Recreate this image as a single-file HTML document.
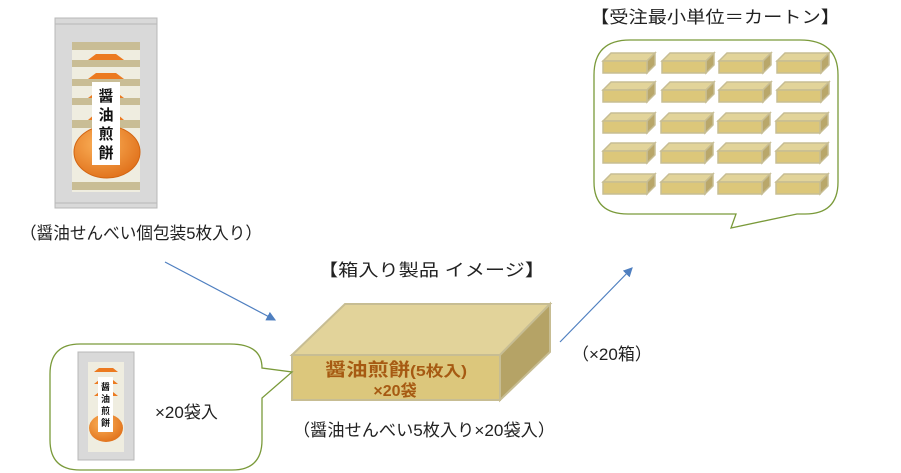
<!DOCTYPE html>
<html><head><meta charset="utf-8"><style>
body{margin:0;background:#fff}
svg{display:block}
text{font-family:"Liberation Sans","Noto Sans CJK JP",sans-serif}
</style></head><body>
<svg width="901" height="473" viewBox="0 0 901 473" xmlns="http://www.w3.org/2000/svg">
<defs>
<radialGradient id="og" cx="0.4" cy="0.35" r="0.7"><stop offset="0" stop-color="#fbb25a"/><stop offset="1" stop-color="#e0701a"/></radialGradient>
<marker id="ar" markerWidth="8" markerHeight="8" refX="7" refY="4" orient="auto"><path d="M0,0 L8,4 L0,8 z" fill="#4f7fc0"/></marker>
<g id="sbox">
<polygon points="0,8 8,0 52,0 44,8" fill="#e2d49a" stroke="#c7bd93" stroke-width="1.5"/>
<polygon points="44,8 52,0 52,12 44,20" fill="#b9a76a" stroke="#c7bd93" stroke-width="1.5"/>
<rect x="0" y="8" width="44" height="12" fill="#dcc77a" stroke="#c7bd93" stroke-width="1.5"/>
</g>
</defs>
<!-- big package -->
<rect x="55" y="18" width="102" height="190" fill="#d9d9d9" stroke="#b8b8b8"/>
<line x1="55" y1="24" x2="157" y2="24" stroke="#b8b8b8"/>
<line x1="55" y1="203" x2="157" y2="203" stroke="#b8b8b8"/>
<rect x="72" y="42" width="68" height="150" fill="#efede0"/>
<g fill="#c9bd95">
<rect x="72" y="42" width="68" height="8"/>
<rect x="72" y="60" width="68" height="7"/>
<rect x="72" y="79" width="68" height="7"/>
<rect x="72" y="98" width="68" height="7"/>
<rect x="72" y="120" width="68" height="8"/>
<rect x="72" y="182" width="68" height="8"/>
</g>
<g fill="#ec7a20">
<polygon points="88,60 96,54 116,54 124,60"/>
<polygon points="88,79 96,73 116,73 124,79"/>
<polygon points="88,98 96,92 116,92 124,98"/>
<polygon points="88,120 96,113 116,113 124,120"/>
</g>
<ellipse cx="107" cy="152" rx="33" ry="26" fill="url(#og)" stroke="#d26512"/>
<rect x="92" y="82" width="28" height="83" fill="#fff"/>
<text font-size="15" font-weight="bold" fill="#111" text-anchor="middle"><tspan x="106" y="101">醤</tspan><tspan x="106" y="120">油</tspan><tspan x="106" y="139">煎</tspan><tspan x="106" y="158">餅</tspan></text>
<text x="20" y="239" font-size="17" fill="#222" textLength="242" lengthAdjust="spacingAndGlyphs">（醤油せんべい個包装5枚入り）</text>
<!-- arrows -->
<line x1="165" y1="262" x2="275" y2="320" stroke="#4f7fc0" stroke-width="1.2" marker-end="url(#ar)"/>
<line x1="560" y1="342" x2="632" y2="268" stroke="#4f7fc0" stroke-width="1.2" marker-end="url(#ar)"/>
<text x="318" y="276" font-size="17" fill="#222" textLength="227" lengthAdjust="spacingAndGlyphs">【箱入り製品 イメージ】</text>
<!-- big box -->
<polygon points="292,355 345,304 550,304 500,355" fill="#e2d39a" stroke="#c7bd93" stroke-width="2"/>
<polygon points="500,355 550,304 550,352 500,400" fill="#b5a366" stroke="#c7bd93" stroke-width="2"/>
<rect x="292" y="355" width="208" height="45" fill="#dcc77c" stroke="#c7bd93" stroke-width="2"/>
<text x="325" y="376" font-size="18" font-weight="bold" fill="#a65a12" textLength="142" lengthAdjust="spacingAndGlyphs">醤油煎餅<tspan font-size="15">(5枚入)</tspan></text>
<text x="395" y="396" font-size="16" font-weight="bold" fill="#a65a12" text-anchor="middle">×20袋</text>
<text x="293" y="436" font-size="17" fill="#222" textLength="262" lengthAdjust="spacingAndGlyphs">（醤油せんべい5枚入り×20袋入）</text>
<text x="572" y="360" font-size="17" fill="#222">（×20箱）</text>
<!-- bottom-left callout -->
<path d="M80,344 H230 Q262,344 262,368 L292,372 L262,398 V440 Q262,470 232,470 H80 Q50,470 50,440 V374 Q50,344 80,344 Z" fill="#fff" stroke="#7a9a3a" stroke-width="1.3"/>
<rect x="78" y="352" width="56" height="108" fill="#d9d9d9" stroke="#b8b8b8"/>
<rect x="88" y="362" width="36" height="90" fill="#efede0"/>
<g fill="#ec7a20">
<polygon points="94,372 99,368 113,368 118,372"/>
<polygon points="94,384 99,380 113,380 118,384"/>
<polygon points="94,396 99,392 113,392 118,396"/>
</g>
<ellipse cx="106" cy="428" rx="17" ry="14" fill="url(#og)"/>
<rect x="98" y="377" width="15" height="55" fill="#fff"/>
<text font-size="9" font-weight="bold" fill="#111" text-anchor="middle"><tspan x="105.5" y="390">醤</tspan><tspan x="105.5" y="402">油</tspan><tspan x="105.5" y="414">煎</tspan><tspan x="105.5" y="426">餅</tspan></text>
<text x="155" y="418" font-size="17" fill="#222">×20袋入</text>
<!-- top-right callout -->
<text x="590" y="23" font-size="17" fill="#222" textLength="250" lengthAdjust="spacingAndGlyphs">【受注最小単位＝カートン】</text>
<path d="M630,40 H800 Q838,40 838,75 V182 Q838,214 805,214 L797,214 L731,228 L736,214 H628 Q594,214 594,182 V75 Q594,40 630,40 Z" fill="#fff" stroke="#7a9a3a" stroke-width="1.3"/>
<g>
<use href="#sbox" x="603" y="53"/><use href="#sbox" x="662" y="53"/><use href="#sbox" x="719" y="53"/><use href="#sbox" x="777" y="53"/>
<use href="#sbox" x="603" y="82"/><use href="#sbox" x="662" y="82"/><use href="#sbox" x="719" y="82"/><use href="#sbox" x="777" y="82"/>
<use href="#sbox" x="603" y="113"/><use href="#sbox" x="661" y="113"/><use href="#sbox" x="718" y="113"/><use href="#sbox" x="776" y="113"/>
<use href="#sbox" x="603" y="143"/><use href="#sbox" x="661" y="143"/><use href="#sbox" x="718" y="143"/><use href="#sbox" x="776" y="143"/>
<use href="#sbox" x="603" y="174"/><use href="#sbox" x="661" y="174"/><use href="#sbox" x="718" y="174"/><use href="#sbox" x="776" y="174"/>
</g>
</svg>
</body></html>
